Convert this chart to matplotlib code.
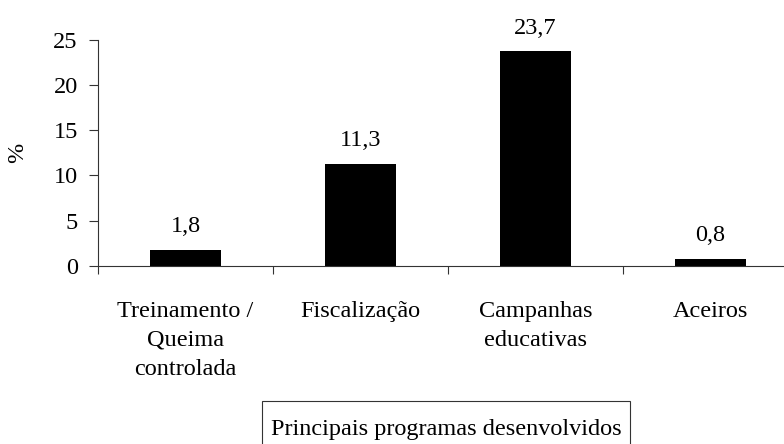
import matplotlib
matplotlib.use("Agg")
import matplotlib.pyplot as plt
from matplotlib.patches import Rectangle

categories = ["Treinamento /\nQueima\ncontrolada", "Fiscalização", "Campanhas\neducativas", "Aceiros"]
values = [1.8, 11.3, 23.7, 0.8]
value_labels = ["1,8", "11,3", "23,7", "0,8"]
yticks = [0, 5, 10, 15, 20, 25]
xlabel = "Principais programas desenvolvidos"

plt.rcParams['font.family'] = ['Liberation Serif', 'DejaVu Serif']
FS = 17.5
plt.rcParams['font.size'] = FS

W, H = 784, 444
fig = plt.figure(figsize=(W / 100, H / 100), dpi=100)
ax = fig.add_axes([98 / W, 1 - 266 / H, 700 / W, (266 - 39.5) / H])
ax.set_clip_on(False)

x = list(range(len(categories)))
ax.bar(x, values, width=0.405, color='black')
for xi, v, lab in zip(x, values, value_labels):
    ax.annotate(lab, (xi, v), xytext=(0, 12.5), textcoords='offset points',
                ha='center', va='baseline', fontsize=FS)

ax.set_xlim(-0.5, 3.5)
ax.set_ylim(0, 25)
ax.set_yticks(yticks)
ax.set_yticklabels([str(t) for t in yticks])
ax.set_xticks(x)
ax.set_xticklabels(categories, linespacing=1.5)
ax.set_xticks([-0.5, 0.5, 1.5, 2.5, 3.5], minor=True)
ax.tick_params(axis='x', which='major', length=0, pad=25)
ax.tick_params(axis='x', which='minor', direction='out', length=6, width=0.8, color='#333333')
ax.tick_params(axis='y', direction='out', length=6.5, width=0.8, pad=8, color='#333333')
for s in ['top', 'right']:
    ax.spines[s].set_visible(False)
for s in ['left', 'bottom']:
    ax.spines[s].set_linewidth(0.8)
    ax.spines[s].set_color('#333333')
ax.set_ylabel('%', labelpad=18)

# boxed category-axis title
fig.patches.append(Rectangle((262 / W, 1 - 470 / H), (630 - 262) / W, (470 - 401) / H,
                             transform=fig.transFigure, fill=False, ec='#333333', lw=0.8))
fig.text(446 / W, 1 - 435 / H, xlabel, ha='center', va='baseline', fontsize=FS)

fig.savefig('out.png', dpi=100)
